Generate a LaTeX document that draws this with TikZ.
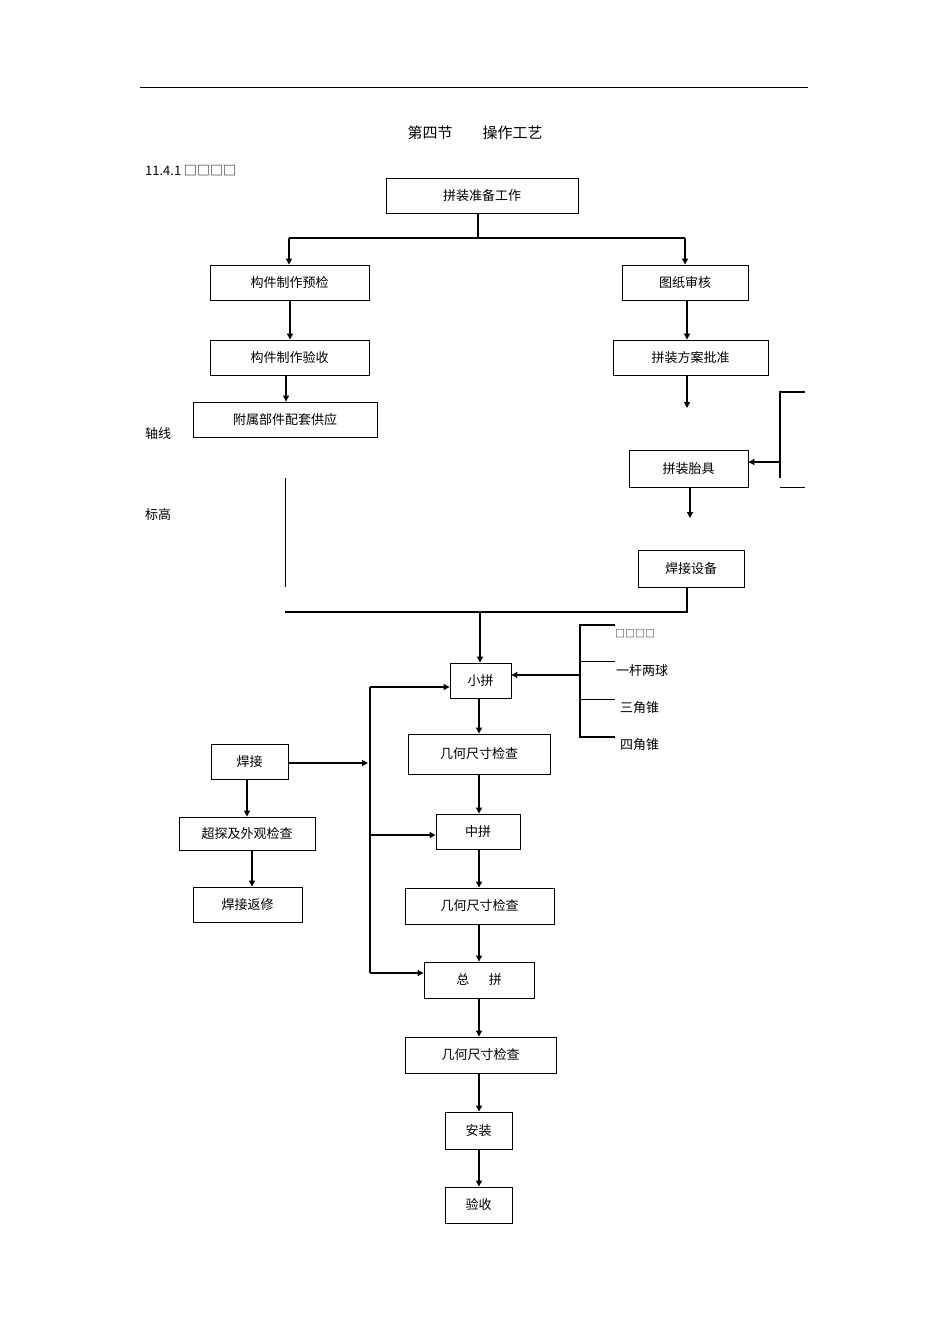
\documentclass[tikz,border=0pt]{standalone}
\usepackage{fontspec}
\setmainfont{Noto Sans CJK SC}
\usetikzlibrary{arrows.meta}
\begin{document}
\begin{tikzpicture}[x=1pt,y=-1pt,
  bx/.style={draw,line width=0.9pt,inner sep=0pt,font=\fontsize{13}{13}\selectfont},
  ar/.style={-{Triangle[length=6pt,width=6pt]},line width=1.2pt},
  ln/.style={line width=1.2pt},
  lb/.style={font=\fontsize{13}{13}\selectfont,inner sep=0pt}]
\useasboundingbox (0,0) rectangle (950,1344);
\draw[line width=0.8pt] (140,87) -- (808,87);
\node[lb,font=\fontsize{15}{15}\selectfont] (title) at (475,133) {第四节\hspace{2em}操作工艺};
\node[lb,anchor=west] (num) at (145,171) {11.4.1 □□□□};
\newcommand{\bxn}[6]{\node[bx,minimum width=#3-#2,minimum height=#5-#4] (#1) at ({(#2+#3)/2},{(#4+#5)/2}) {#6};}
\bxn{A}{386}{578}{178}{213}{拼装准备工作}
\bxn{B}{210}{369}{265}{300}{构件制作预检}
\bxn{C}{622}{748}{265}{300}{图纸审核}
\bxn{D}{210}{369}{340}{375}{构件制作验收}
\bxn{E}{613}{768}{340}{375}{拼装方案批准}
\bxn{F}{193}{377}{402}{437}{附属部件配套供应}
\bxn{G}{629}{748}{450}{487}{拼装胎具}
\bxn{H}{638}{744}{550}{587}{焊接设备}
\bxn{I}{450}{511}{663}{698}{小拼}
\bxn{J}{408}{550}{734}{774}{几何尺寸检查}
\bxn{K}{436}{520}{814}{849}{中拼}
\bxn{L}{405}{554}{888}{924}{几何尺寸检查}
\bxn{M}{424}{534}{962}{998}{总\hspace{1.5em}拼}
\bxn{N}{405}{556}{1037}{1073}{几何尺寸检查}
\bxn{O}{445}{512}{1112}{1149}{安装}
\bxn{P}{445}{512}{1187}{1223}{验收}
\bxn{Q}{211}{288}{744}{779}{焊接}
\bxn{R}{179}{315}{817}{850}{超探及外观检查}
\bxn{S}{193}{302}{887}{922}{焊接返修}
% top branch
\coordinate (a1) at (478,238);
\draw[ln] (A.south -| a1) -- (a1);
\draw[ln] (289,238) -- (685,238);
\coordinate (bl) at (289,238); \coordinate (cr) at (685,238);
\draw[ar] (bl) -- (B.north -| bl);
\draw[ar] (cr) -- (C.north -| cr);
\coordinate (bx) at (290,0); \draw[ar] (B.south -| bx) -- (D.north -| bx);
\coordinate (dx) at (286,0); \draw[ar] (D.south -| dx) -- (F.north -| dx);
\coordinate (cx) at (687,0); \draw[ar] (C.south -| cx) -- (E.north -| cx);
\coordinate (e1) at (687,408); \draw[ar] (E.south -| e1) -- (e1);
\coordinate (g1) at (690,518); \draw[ar] (G.south -| g1) -- (g1);
% right bracket
\draw[ln] (805,392) -- (780,392) -- (780,478);
\draw[line width=0.8pt] (780,487) -- (805,487);
\coordinate (gi) at (780,462); \draw[ar] (gi) -- (G.east |- gi);
\node[lb] (zx) at (158,434) {轴线};
\node[lb] (bg) at (158,515) {标高};
\draw[line width=0.8pt] (285,478) -- (285,587);
\coordinate (h1) at (687,612);
\draw[ln] (H.south -| h1) -- (h1) -- (285,612);
\coordinate (i0) at (480,612); \draw[ar] (i0) -- (I.north -| i0);
% small bracket
\draw[ln] (615,625) -- (580,625) -- (580,737) -- (615,737);
\draw[line width=0.8pt] (580,661) -- (615,661) (580,699) -- (615,699);
\coordinate (ib) at (580,675); \draw[ar] (ib) -- (I.east |- ib);
\node[lb,anchor=west,font=\fontsize{10}{10}\selectfont] (t0) at (615,634) {□□□□};
\node[lb,anchor=west] (t1) at (616,671) {一杆两球};
\node[lb,anchor=west] (t2) at (620,708) {三角锥};
\node[lb,anchor=west] (t3) at (620,745) {四角锥};
% main chain
\coordinate (mx) at (479,0);
\draw[ar] (I.south -| mx) -- (J.north -| mx);
\draw[ar] (J.south -| mx) -- (K.north -| mx);
\draw[ar] (K.south -| mx) -- (L.north -| mx);
\draw[ar] (L.south -| mx) -- (M.north -| mx);
\draw[ar] (M.south -| mx) -- (N.north -| mx);
\draw[ar] (N.south -| mx) -- (O.north -| mx);
\draw[ar] (O.south -| mx) -- (P.north -| mx);
% left feed
\coordinate (l1) at (370,687); \coordinate (l2) at (370,835); \coordinate (l3) at (370,973);
\draw[ln] (l1) -- (l3);
\draw[ar] (l1) -- (I.west |- l1);
\draw[ar] (l2) -- (K.west |- l2);
\draw[ar] (l3) -- (M.west |- l3);
\coordinate (q1) at (368,763); \draw[ar] (Q.east |- q1) -- (q1);
\coordinate (qx) at (247,0); \draw[ar] (Q.south -| qx) -- (R.north -| qx);
\coordinate (rx) at (252,0); \draw[ar] (R.south -| rx) -- (S.north -| rx);
\end{tikzpicture}
\end{document}
